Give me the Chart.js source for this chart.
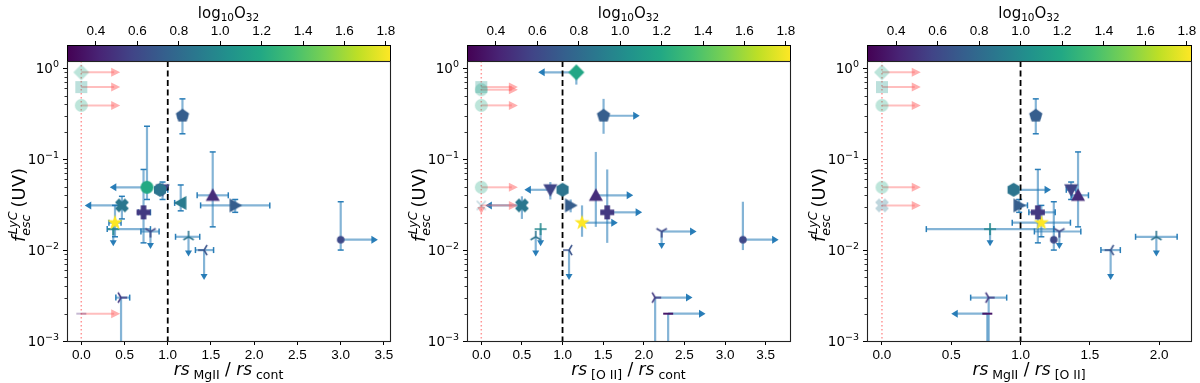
<!DOCTYPE html>
<html>
<head>
<meta charset="utf-8">
<script src="https://cdn.jsdelivr.net/npm/chart.js@4.4.1/dist/chart.umd.min.js"></script>
<style>
  html, body { margin: 0; padding: 0; background: #fff; }
  #wrap { display: flex; width: 1200px; height: 383px; }
  canvas { display: block; }
</style>
</head>
<body>
<div id="wrap">
  <canvas id="c0" width="400" height="383"></canvas>
  <canvas id="c1" width="400" height="383"></canvas>
  <canvas id="c2" width="400" height="383"></canvas>
</div>
<script>
// one entry per galaxy: marker, log10 O32 (colour), fesc(UV) with error bar ends / upper-limit arrow end
const markers = ['D', 's', 'o', 'p', 'o', 'h', 'v', '^', '<', '>', 'X', 'P', '*', '+', '1', '2', '3', '4', '_', '.', 'o', 'x'];
const logO32  = [1.18, 1.08, 1.20, 0.72, 1.20, 0.86, 0.58, 0.46, 0.90, 0.72, 0.88, 0.52, 1.82, 0.98, 0.60, 0.85, 0.66, 0.52, 0.36, 0.60, 1.15, 0.88];
const fesc    = [0.90, 0.62, 0.39, 0.30, 0.049, 0.046, 0.046, 0.040, 0.033, 0.031, 0.031, 0.026, 0.020, 0.017, 0.016, 0.014, 0.010, 0.003, 0.002, 0.013, 0.58, 0.031];
const fescLo  = [0.66, null, null, 0.19, 0.036, null, 0.036, 0.018, 0.027, 0.026, 0.022, 0.012, 0.014, null, null, null, null, 0.0004, 0.0004, 0.010, null, null];
const fescHi  = [null, null, null, 0.46, 0.23, null, 0.056, 0.12, 0.052, 0.036, 0.039, 0.077, 0.031, null, null, null, null, null, null, 0.034, null, null];
const fescLim = [null, null, null, null, null, null, null, null, null, null, null, null, null, 0.011, 0.0103, 0.0085, 0.0047, null, null, null, null, 0.025];

// x per panel: null = ratio not measured (drawn faded at 0), NaN = not in this panel
const xMgCont      = [null, null, null, 1.17, 0.76, 0.91, 0.94, 1.52, 1.15, 1.78, 0.47, 0.72, 0.39, 0.37, 0.80, 1.24, 1.42, 0.46, null, 3.00, NaN, NaN];
const xMgContLo    = [null, null, null, 1.12, null, null, 0.88, 1.34, 1.08, 1.38, null, 0.66, 0.32, 0.30, 0.69, 1.09, 1.32, 0.40, null, null, null, null];
const xMgContHi    = [null, null, null, 1.22, null, null, 1.00, 1.70, null, 2.18, null, 0.80, 0.46, 0.80, 0.90, 1.37, 1.53, 0.56, null, null, null, null];
const xMgContArr   = [null, null, null, null, 0.33, 1.01, null, null, null, null, 0.04, null, null, null, null, null, null, null, null, 3.43, null, null];

const xOiiCont     = [1.17, null, null, 1.505, null, 1.00, 0.85, 1.41, NaN, 1.10, 0.50, 1.55, 1.24, 0.73, 2.22, 0.67, 1.08, 2.14, 2.30, 3.22, null, null];
const xOiiContLo   = [null, null, null, null, null, null, null, null, null, null, null, null, null, null, null, null, null, null, null, null, null, null];
const xOiiContHi   = [null, null, null, null, null, null, null, null, null, null, null, null, null, null, null, null, null, null, null, null, null, null];
const xOiiContArr  = [0.70, null, null, 1.95, null, null, 0.53, 1.87, null, null, 0.05, 1.98, 1.68, null, 2.65, null, null, 2.60, 2.76, 3.66, null, null];

const xMgOii       = [null, null, null, 1.11, null, 0.95, 1.365, 1.415, NaN, 0.99, null, 1.125, 1.15, 0.78, 1.28, 1.98, 1.65, 0.77, 0.76, 1.24, NaN, NaN];
const xMgOiiLo     = [null, null, null, 1.08, null, null, 1.33, 1.37, null, 0.965, null, 1.06, 0.94, 0.32, 1.10, 1.83, 1.58, 0.64, null, null, null, null];
const xMgOiiHi     = [null, null, null, 1.14, null, null, 1.40, 1.49, null, 1.05, null, 1.25, 1.36, 1.24, 1.435, 2.13, 1.72, 0.90, null, null, null, null];
const xMgOiiArr    = [null, null, null, null, null, 1.22, null, null, null, null, null, null, null, null, null, null, null, null, 0.50, null, null, null];

const fadedArrowTo = [0.45, 0.45, 0.28];

const xTicksMgCont  = [0, 0.5, 1.0, 1.5, 2.0, 2.5, 3.0, 3.5];
const xTicksOiiCont = [0, 0.5, 1.0, 1.5, 2.0, 2.5, 3.0, 3.5];
const xTicksMgOii   = [0, 0.5, 1.0, 1.5, 2.0];
const yTicks  = [0.001, 0.01, 0.1, 1];
const yTickExp = ['−3', '−2', '−1', '0'];
const cbTicks = [0.4, 0.6, 0.8, 1.0, 1.2, 1.4, 1.6, 1.8];
const cbMin = 0.26, cbMax = 1.82;

const FONT = "'DejaVu Sans'";
const it = s => `italic ${s}px ${FONT}`;
const rm = s => `${s}px ${FONT}`;

const panels = [
  { x: xMgCont, lo: xMgContLo, hi: xMgContHi, arr: xMgContArr, ticks: xTicksMgCont,
    xMin: -0.165, xMax: 3.57, caps: true, padRight: 10,
    label: [{ t: 'rs', f: it(17) }, { t: ' MgII', f: rm(12.5), dy: 4 }, { t: ' / ', f: rm(17) }, { t: 'rs', f: it(17) }, { t: ' cont', f: rm(12.5), dy: 4 }] },
  { x: xOiiCont, lo: xOiiContLo, hi: xOiiContHi, arr: xOiiContArr, ticks: xTicksOiiCont,
    xMin: -0.176, xMax: 3.80, caps: false, padRight: 10,
    label: [{ t: 'rs', f: it(17) }, { t: ' [O II]', f: rm(12.5), dy: 4 }, { t: ' / ', f: rm(17) }, { t: 'rs', f: it(17) }, { t: ' cont', f: rm(12.5), dy: 4 }] },
  { x: xMgOii, lo: xMgOiiLo, hi: xMgOiiHi, arr: xMgOiiArr, ticks: xTicksMgOii,
    xMin: -0.108, xMax: 2.23, caps: true, padRight: 9,
    label: [{ t: 'rs', f: it(17) }, { t: ' MgII', f: rm(12.5), dy: 4 }, { t: ' / ', f: rm(17) }, { t: 'rs', f: it(17) }, { t: ' [O II]', f: rm(12.5), dy: 4 }] }
];

const VIRIDIS = [[68,1,84],[72,36,117],[65,68,135],[53,95,141],[42,120,142],[33,145,140],[34,168,132],[68,191,112],[122,209,81],[189,223,38],[253,231,37]];
function viridis(v) {
  let t = (v - cbMin) / (cbMax - cbMin);
  t = Math.max(0, Math.min(1, t));
  const p = t * 10, i = Math.min(9, Math.floor(p)), f = p - i;
  const a = VIRIDIS[i], b = VIRIDIS[i + 1];
  return a.map((c, k) => Math.round(c + (b[k] - c) * f));
}

const markerSize = { D: 8, s: 6, o: 6.5, p: 7, h: 7, '^': 7, v: 7, '<': 7, '>': 7, P: 7, X: 7, '*': 8, '+': 6, x: 6, _: 5, '1': 6, '2': 6, '3': 6, '4': 6, '.': 3.8 };

function markerCanvas(m, rgb, alpha) {
  const r = markerSize[m];
  const s = Math.ceil(r * 2 + 4);
  const c = document.createElement('canvas');
  c.width = c.height = s;
  const g = c.getContext('2d');
  g.translate(s / 2, s / 2);
  const col = `rgba(${rgb[0]},${rgb[1]},${rgb[2]},${alpha})`;
  g.fillStyle = col; g.strokeStyle = col; g.lineWidth = 1.6; g.lineJoin = 'round';
  const poly = pts => { g.beginPath(); pts.forEach(([px, py], k) => k ? g.lineTo(px, py) : g.moveTo(px, py)); g.closePath(); g.fill(); };
  const ngon = (n, rr) => { const pts = []; for (let k = 0; k < n; k++) { const a = k * 2 * Math.PI / n; pts.push([rr * Math.sin(a), -rr * Math.cos(a)]); } return pts; };
  const arms = pts => { g.beginPath(); pts.forEach(([px, py]) => { g.moveTo(0, 0); g.lineTo(px, py); }); g.stroke(); };
  const plus = w => [[-w, -r], [w, -r], [w, -w], [r, -w], [r, w], [w, w], [w, r], [-w, r], [-w, w], [-r, w], [-r, -w], [-w, -w]];
  switch (m) {
    case 'D': poly(ngon(4, r)); break;
    case 's': g.fillRect(-r, -r, 2 * r, 2 * r); break;
    case 'o': case '.': g.beginPath(); g.arc(0, 0, r, 0, 2 * Math.PI); g.fill(); break;
    case 'p': poly(ngon(5, r)); break;
    case 'h': poly(ngon(6, r)); break;
    case '^': poly([[0, -r], [-r, r * 0.8], [r, r * 0.8]]); break;
    case 'v': poly([[0, r], [-r, -r * 0.8], [r, -r * 0.8]]); break;
    case '<': poly([[-r, 0], [r * 0.8, -r], [r * 0.8, r]]); break;
    case '>': poly([[r, 0], [-r * 0.8, -r], [-r * 0.8, r]]); break;
    case 'P': poly(plus(r * 0.4)); break;
    case 'X': g.rotate(Math.PI / 4); poly(plus(r * 0.4)); break;
    case '*': {
      const pts = [];
      for (let k = 0; k < 10; k++) { const a = k * Math.PI / 5, rr = k % 2 ? r * 0.4 : r; pts.push([rr * Math.sin(a), -rr * Math.cos(a)]); }
      poly(pts); break;
    }
    case '+': arms([[-r, 0], [r, 0], [0, -r], [0, r]]); break;
    case 'x': arms([[-r * 0.75, -r * 0.75], [r * 0.75, r * 0.75], [-r * 0.75, r * 0.75], [r * 0.75, -r * 0.75]]); break;
    case '_': g.lineWidth = 2; arms([[-r, 0], [r, 0]]); break;
    case '1': arms([[0, r], [-0.87 * r, -0.5 * r], [0.87 * r, -0.5 * r]]); break;
    case '2': arms([[0, -r], [-0.87 * r, 0.5 * r], [0.87 * r, 0.5 * r]]); break;
    case '3': arms([[-r, 0], [0.5 * r, -0.87 * r], [0.5 * r, 0.87 * r]]); break;
    case '4': arms([[r, 0], [-0.5 * r, -0.87 * r], [-0.5 * r, 0.87 * r]]); break;
  }
  return c;
}

function buildDatasets(p) {
  const ds = [];
  markers.forEach((m, i) => {
    const xv = p.x[i];
    if (Number.isNaN(xv)) return;
    const faded = xv === null;
    ds.push({
      label: 'g' + i,
      xAxisID: 'x', yAxisID: 'y',
      data: [{ x: faded ? 0 : xv, y: fesc[i] }],
      pointStyle: markerCanvas(m, viridis(logO32[i]), faded ? 0.3 : 1),
      pointRadius: 6, pointHoverRadius: 6,
      gal: i, faded: faded
    });
  });
  return ds;
}

const ERR_LINE = 'rgba(31,119,180,0.55)';
const ERR_HEAD = 'rgba(31,119,180,0.95)';
const PINK_LINE = 'rgba(255,110,110,0.45)';
const PINK_HEAD = 'rgba(255,110,110,0.55)';

function head(ctx, x, y, dir, len, half, color) {
  ctx.fillStyle = color;
  ctx.beginPath();
  if (dir === 'r') { ctx.moveTo(x, y); ctx.lineTo(x - len, y - half); ctx.lineTo(x - len, y + half); }
  if (dir === 'l') { ctx.moveTo(x, y); ctx.lineTo(x + len, y - half); ctx.lineTo(x + len, y + half); }
  if (dir === 'd') { ctx.moveTo(x, y); ctx.lineTo(x - half, y - len); ctx.lineTo(x + half, y - len); }
  ctx.closePath(); ctx.fill();
}
function seg(ctx, x1, y1, x2, y2, color, w) {
  ctx.strokeStyle = color; ctx.lineWidth = w;
  ctx.beginPath(); ctx.moveTo(x1, y1); ctx.lineTo(x2, y2); ctx.stroke();
}

const errPlugin = {
  id: 'err',
  beforeDatasetsDraw(chart, args, opts) {
    const p = panels[opts.pi];
    const { ctx, chartArea: a } = chart;
    const sx = chart.scales.x, sy = chart.scales.y;
    ctx.save();
    ctx.beginPath(); ctx.rect(a.left, a.top, a.width, a.height); ctx.clip();
    // x = 0 reference (dotted pink) and x = 1 (dashed black)
    const x0 = sx.getPixelForValue(0);
    ctx.setLineDash([1.5, 2.5]);
    seg(ctx, x0, a.top, x0, a.bottom, 'rgba(255,80,80,0.6)', 1.5);
    ctx.setLineDash([]);
    chart.data.datasets.forEach(d => {
      const i = d.gal;
      const py = sy.getPixelForValue(fesc[i]);
      if (d.faded) {
        const xe = sx.getPixelForValue(fadedArrowTo[opts.pi]);
        seg(ctx, x0, py, xe - 6, py, PINK_LINE, 2);
        head(ctx, xe, py, 'r', 9, 4.5, PINK_HEAD);
        if (fescLim[i] !== null) {
          const ye = sy.getPixelForValue(fescLim[i]);
          seg(ctx, x0, py, x0, ye - 5, PINK_LINE, 2);
          head(ctx, x0, ye, 'd', 7, 4, PINK_HEAD);
        }
        return;
      }
      const px = sx.getPixelForValue(p.x[i]);
      const cap = (x1, y1, x2, y2) => { if (p.caps) seg(ctx, x1, y1, x2, y2, ERR_HEAD, 1.5); };
      // vertical bar
      if (fescLo[i] !== null || fescHi[i] !== null) {
        const y1 = sy.getPixelForValue(fescLo[i] ?? fesc[i]);
        const y2 = sy.getPixelForValue(fescHi[i] ?? fesc[i]);
        seg(ctx, px, y1, px, y2, ERR_LINE, 2.2);
        if (fescLo[i] !== null) cap(px - 3, y1, px + 3, y1);
        if (fescHi[i] !== null) cap(px - 3, y2, px + 3, y2);
      }
      if (fescLim[i] !== null) {
        const ye = sy.getPixelForValue(fescLim[i]);
        seg(ctx, px, py, px, ye - 4, ERR_LINE, 2.2);
        head(ctx, px, ye, 'd', 6, 3.5, ERR_HEAD);
      }
      // horizontal bar
      if (p.lo[i] !== null || p.hi[i] !== null) {
        const x1 = sx.getPixelForValue(p.lo[i] ?? p.x[i]);
        const x2 = sx.getPixelForValue(p.hi[i] ?? p.x[i]);
        seg(ctx, x1, py, x2, py, ERR_LINE, 2.2);
        if (p.lo[i] !== null) cap(x1, py - 3, x1, py + 3);
        if (p.hi[i] !== null) cap(x2, py - 3, x2, py + 3);
      }
      if (p.arr[i] !== null) {
        const xe = sx.getPixelForValue(p.arr[i]);
        const dir = p.arr[i] > p.x[i] ? 'r' : 'l';
        seg(ctx, px, py, xe + (dir === 'r' ? -4 : 4), py, ERR_LINE, 2.2);
        head(ctx, xe, py, dir, 6.5, 4, ERR_HEAD);
      }
    });
    const x1 = sx.getPixelForValue(1);
    ctx.setLineDash([6, 3.5]);
    seg(ctx, x1, a.top, x1, a.bottom, '#000', 1.8);
    ctx.restore();
  }
};

function richText(ctx, segs, x, y, rot, align) {
  ctx.save();
  ctx.translate(x, y);
  if (rot) ctx.rotate(rot);
  let w = 0, pend = 0;
  segs.forEach(s => {
    ctx.font = s.f;
    const m = ctx.measureText(s.t).width;
    if (s.keep) pend = Math.max(pend, m); else { w += Math.max(pend, m); pend = 0; }
  });
  let cx = align === 'right' ? -w : -w / 2; pend = 0;
  ctx.fillStyle = '#000'; ctx.textBaseline = 'alphabetic'; ctx.textAlign = 'left';
  segs.forEach(s => {
    ctx.font = s.f;
    const m = ctx.measureText(s.t).width;
    ctx.fillText(s.t, cx + (s.dx || 0), s.dy || 0);
    if (s.keep) pend = Math.max(pend, m); else { cx += Math.max(pend, m); pend = 0; }
  });
  ctx.restore();
}

const yLabel = [{ t: 'f', f: it(18) }, { t: 'LyC', f: it(12.5), dy: -8.5, dx: 1.5, keep: true }, { t: 'esc', f: it(12.5), dy: 4.5 }, { t: ' (UV)', f: rm(18) }];
const cbLabel = [{ t: 'log', f: rm(15) }, { t: '10', f: rm(10.5), dy: 3 }, { t: 'O', f: rm(15) }, { t: '32', f: rm(10.5), dy: 3 }];

const decoPlugin = {
  id: 'deco',
  afterDraw(chart, args, opts) {
    const p = panels[opts.pi];
    const { ctx, chartArea: a } = chart;
    const sy = chart.scales.y;
    ctx.save();
    // minor log ticks
    ctx.strokeStyle = '#000'; ctx.lineWidth = 0.8;
    for (let e = -3; e <= 0; e++) {
      for (let k = 2; k <= 9; k++) {
        const v = k * Math.pow(10, e);
        if (v > sy.max) continue;
        const yy = Math.round(sy.getPixelForValue(v)) + 0.5;
        ctx.beginPath(); ctx.moveTo(a.left - 2.5, yy); ctx.lineTo(a.left, yy); ctx.stroke();
      }
    }
    // y tick labels with raised exponent
    yTicks.forEach((v, k) => {
      const yy = sy.getPixelForValue(v);
      richText(ctx, [{ t: '10', f: rm(13.5) }, { t: yTickExp[k], f: rm(9.5), dy: -6 }], a.left - 8, yy + 5, 0, 'right');
    });
    // colour bar
    const cbTop = a.top - 16;
    const grad = ctx.createLinearGradient(a.left, 0, a.right, 0);
    VIRIDIS.forEach((c, k) => grad.addColorStop(k / 10, `rgb(${c[0]},${c[1]},${c[2]})`));
    ctx.fillStyle = grad;
    ctx.fillRect(a.left, cbTop, a.right - a.left, 16);
    ctx.strokeStyle = '#000'; ctx.lineWidth = 1;
    ctx.strokeRect(Math.round(a.left) + 0.5, Math.round(cbTop) + 0.5, Math.round(a.right - a.left), 16);
    // frame
    ctx.lineWidth = 1.1;
    ctx.strokeStyle = '#222';
    ctx.strokeRect(Math.round(a.left) + 0.5, Math.round(a.top) + 0.5, Math.round(a.right - a.left), Math.round(a.bottom - a.top));
    // axis titles
    richText(ctx, cbLabel, (a.left + a.right) / 2, 18);
    richText(ctx, p.label, (a.left + a.right) / 2, 375);
    richText(ctx, yLabel, 25, (a.top + a.bottom) / 2 + 4, -Math.PI / 2);
    ctx.restore();
  }
};

function makeChart(pi) {
  const p = panels[pi];
  new Chart(document.getElementById('c' + pi), {
    type: 'scatter',
    data: { datasets: buildDatasets(p) },
    options: {
      responsive: false, animation: false, events: [], devicePixelRatio: 1,
      layout: { padding: { left: 0, right: p.padRight, top: 0, bottom: 0 } },
      plugins: { legend: { display: false }, tooltip: { enabled: false }, err: { pi }, deco: { pi } },
      scales: {
        x: {
          type: 'linear', position: 'bottom', min: p.xMin, max: p.xMax,
          afterBuildTicks: s => { s.ticks = p.ticks.map(v => ({ value: v })); },
          afterFit: s => { s.height = 42; },
          grid: { drawOnChartArea: false, drawTicks: true, tickLength: 4, color: '#000', tickWidth: 1 },
          border: { display: false },
          ticks: { padding: 2, maxRotation: 0, autoSkip: false, color: '#000', font: { size: 13.5 }, callback: v => v.toFixed(1) }
        },
        cb: {
          type: 'linear', position: 'top', min: cbMin, max: cbMax,
          afterBuildTicks: s => { s.ticks = cbTicks.map(v => ({ value: v })); },
          afterFit: s => { s.height = 61; },
          grid: { drawOnChartArea: false, drawTicks: true, tickLength: 20, color: '#000', tickWidth: 1 },
          border: { display: false },
          ticks: { padding: 2, maxRotation: 0, autoSkip: false, color: '#000', font: { size: 13.5 }, callback: v => v.toFixed(1) }
        },
        y: {
          type: 'logarithmic', position: 'left', min: 0.001, max: 1.2,
          afterBuildTicks: s => { s.ticks = yTicks.map(v => ({ value: v })); },
          afterFit: s => { s.width = 67; },
          grid: { drawOnChartArea: false, drawTicks: true, tickLength: 4, color: '#000', tickWidth: 1 },
          border: { display: false },
          ticks: { display: false }
        }
      }
    },
    plugins: [errPlugin, decoPlugin]
  });
}

[0, 1, 2].forEach(makeChart);
</script>
</body>
</html>
